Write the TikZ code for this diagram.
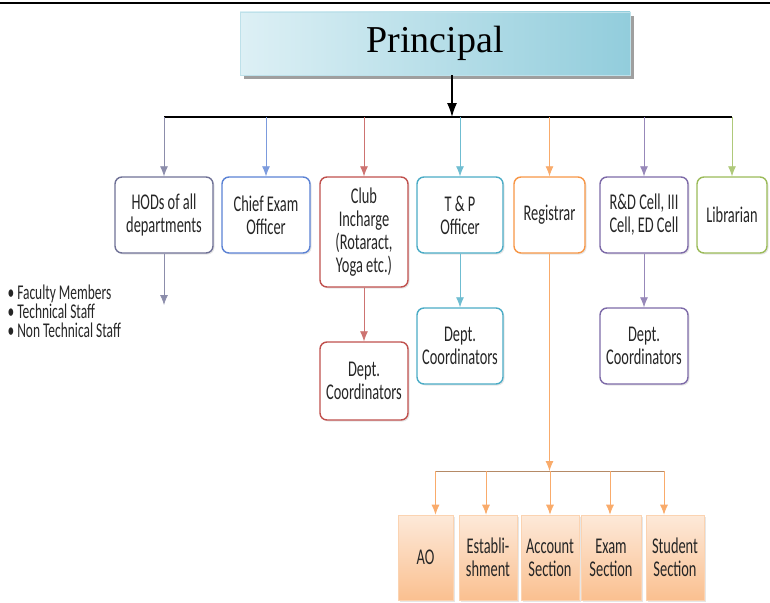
\documentclass[tikz,border=0pt]{standalone}
\usepackage{fontspec}
\setmainfont{Liberation Serif}
\newfontfamily\boxfont[FakeStretch=0.64]{Carlito}
\usetikzlibrary{arrows.meta,shadows}
\definecolor{hodcol}{HTML}{6F7196}
\definecolor{examcol}{HTML}{5B82D4}
\definecolor{clubcol}{HTML}{C0504D}
\definecolor{tpcol}{HTML}{4BACC6}
\definecolor{regcol}{HTML}{F79646}
\definecolor{rdcol}{HTML}{7D6AA8}
\definecolor{libcol}{HTML}{9BBB59}
\definecolor{peach}{HTML}{FAC090}
\definecolor{lightpeach}{HTML}{FDE9D9}
\definecolor{aqua}{HTML}{92CDDC}
\definecolor{lightaqua}{HTML}{DDF0F5}
\definecolor{txt}{HTML}{262626}
\begin{document}
\begin{tikzpicture}[x=1pt, y=-1pt,
  box/.style={draw=#1, fill=white, rounded corners=7pt, line width=1.4pt, align=center, text=txt,
    font=\boxfont\fontsize{22.5}{23}\selectfont, inner sep=1pt,
    drop shadow={shadow xshift=1.5pt, shadow yshift=-1.5pt, opacity=0.2}},
  sect/.style={draw=peach!70, top color=lightpeach, bottom color=peach, line width=0.6pt, align=center,
    text=txt, font=\boxfont\fontsize{22.5}{23}\selectfont, inner sep=1pt, minimum height=85pt,
    drop shadow={shadow xshift=1.5pt, shadow yshift=-1.5pt, opacity=0.2}},
  drop/.style={draw=#1!80, fill=#1!80, line width=0.8pt, -{Latex[length=10pt,width=8pt]}}]
\useasboundingbox (0,0) rectangle (770,602);
\draw[line width=1.5pt] (0,3) -- (770,3);

% top
\node[draw=aqua!60, left color=lightaqua, right color=aqua, minimum width=390pt, minimum height=63pt,
  font=\fontsize{38}{40}\selectfont,
  drop shadow={shadow xshift=4pt, shadow yshift=-4pt, fill=gray!75, opacity=1}] (principal) at (435,43.5) {Principal};
\coordinate (bar) at (452,117);

% first level
\node[box=hodcol, minimum width=98pt, minimum height=76pt] (hod) at (164,215) {HODs of all\\departments};
\node[box=examcol, minimum width=88pt, minimum height=76pt] (exam) at (266,215) {Chief Exam\\Officer};
\node[box=clubcol, minimum width=88pt, minimum height=110pt] (club) at (364,232) {Club\\Incharge\\(Rotaract,\\Yoga etc.)};
\node[box=tpcol, minimum width=86pt, minimum height=76pt] (tp) at (460,215) {T \& P\\Officer};
\node[box=regcol, minimum width=71pt, minimum height=76pt] (reg) at (549.5,215) {Registrar};
\node[box=rdcol, minimum width=88pt, minimum height=76pt] (rd) at (644,215) {R\&D Cell, III\\Cell, ED Cell};
\node[box=libcol, minimum width=70pt, minimum height=76pt] (lib) at (732,215) {Librarian};

% second level
\node[anchor=north west, align=left, text=txt, font=\boxfont\fontsize{21}{19}\selectfont] (staff) at (4,281)
  {\textbullet\ Faculty Members\\\textbullet\ Technical Staff\\\textbullet\ Non Technical Staff};
\coordinate (hodend) at (164,305);
\node[box=clubcol, minimum width=88pt, minimum height=78pt] (clubdc) at (364,381) {Dept.\\Coordinators};
\node[box=tpcol, minimum width=86pt, minimum height=76pt] (tpdc) at (460,346) {Dept.\\Coordinators};
\node[box=rdcol, minimum width=88pt, minimum height=76pt] (rddc) at (644,346) {Dept.\\Coordinators};

% registrar sections
\coordinate (regbar) at (549.5,471);
\node[sect, minimum width=55pt] (ao) at (425.5,557.5) {AO};
\node[sect, minimum width=58pt] (est) at (488,557.5) {Establi-\\shment};
\node[sect, minimum width=58pt] (acc) at (550,557.5) {Account\\Section};
\node[sect, minimum width=60pt] (exs) at (611,557.5) {Exam\\Section};
\node[sect, minimum width=58pt] (stud) at (675,557.5) {Student\\Section};

% connectors
\draw[line width=1.3pt, -{Latex[length=14pt,width=10pt]}] (principal.south -| bar) -- (bar);
\draw[line width=1.4pt] (hod |- bar) -- (lib |- bar);
\draw[drop=hodcol] (hod |- bar) -- (hod);
\draw[drop=examcol] (exam |- bar) -- (exam);
\draw[drop=clubcol] (club |- bar) -- (club);
\draw[drop=tpcol] (tp |- bar) -- (tp);
\draw[drop=regcol] (reg |- bar) -- (reg);
\draw[drop=rdcol] (rd |- bar) -- (rd);
\draw[drop=libcol] (lib |- bar) -- (lib);
\draw[drop=hodcol] (hod) -- (hodend);
\draw[drop=clubcol] (club) -- (clubdc);
\draw[drop=tpcol] (tp) -- (tpdc);
\draw[drop=rdcol] (rd) -- (rddc);
\draw[drop=regcol] (reg) -- (regbar);
\draw[line width=1pt, draw=regcol!45!gray] ([xshift=10pt]ao.north |- regbar) -- ([xshift=-11pt]stud.north |- regbar);
\foreach \n/\dx in {ao/10, est/-2, acc/0, exs/-1, stud/-11}
  \draw[drop=regcol] ([xshift=\dx pt]\n.north |- regbar) -- ([xshift=\dx pt]\n.north);
\end{tikzpicture}
\end{document}
